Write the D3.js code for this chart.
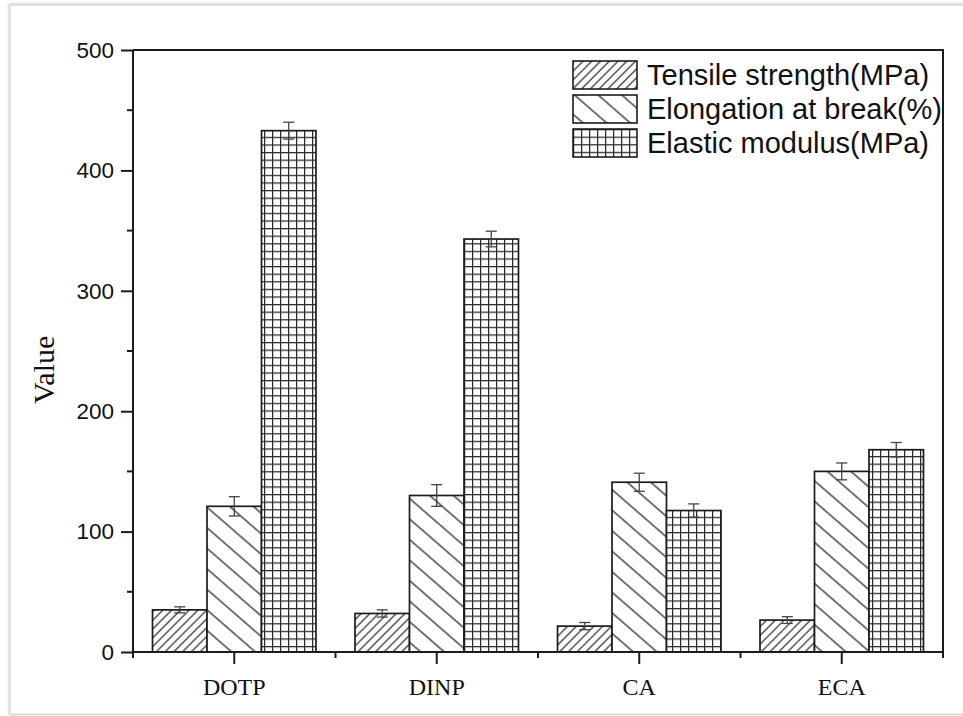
<!DOCTYPE html>
<html>
<head>
<meta charset="utf-8">
<script src="https://cdn.jsdelivr.net/npm/d3@7"></script>
<style>
  html, body { margin: 0; padding: 0; background: #fff; }
  svg { display: block; }
</style>
</head>
<body>
<svg id="chart" width="963" height="716"></svg>
<script>
// Plasticizer samples and measured mechanical properties
const categories = ["DOTP", "DINP", "CA", "ECA"];
const seriesNames = ["Tensile strength(MPa)", "Elongation at break(%)", "Elastic modulus(MPa)"];
const tensileStrength = [35, 32, 21.5, 26.5];
const elongationAtBreak = [121, 130, 141, 150];
const elasticModulus = [433, 343, 117.5, 168];
const tensileErr = [2.5, 3, 3, 2.8];
const elongationErr = [8, 9, 7.5, 7];
const modulusErr = [7, 6.5, 5.5, 6];
const yTicks = [0, 100, 200, 300, 400, 500];
const yMinorTicks = [50, 150, 250, 350, 450];

const seriesValues = [tensileStrength, elongationAtBreak, elasticModulus];
const seriesErrors = [tensileErr, elongationErr, modulusErr];
const patternIds = ["hatch-fwd", "hatch-back", "grid"];

const svg = d3.select("#chart");
const ink = "#1c1c1c";

// card frame with soft shadow
const defs = svg.append("defs");
const shadow = defs.append("filter").attr("id", "soft").attr("x", "-5%").attr("y", "-5%").attr("width", "110%").attr("height", "110%");
shadow.append("feGaussianBlur").attr("stdDeviation", 1.6);
svg.append("rect").attr("x", 10).attr("y", 5).attr("width", 962).attr("height", 709)
  .attr("fill", "none").attr("stroke", "#bdbdbd").attr("stroke-width", 2).attr("filter", "url(#soft)");
svg.append("rect").attr("x", 10).attr("y", 5).attr("width", 962).attr("height", 709)
  .attr("fill", "#fff").attr("stroke", "#d6d6d6").attr("stroke-width", 1);

// fill patterns
const p1 = defs.append("pattern").attr("id", "hatch-fwd").attr("patternUnits", "userSpaceOnUse")
  .attr("width", 6.2).attr("height", 10).attr("patternTransform", "rotate(45)");
p1.append("rect").attr("width", 6.2).attr("height", 10).attr("fill", "#fff");
p1.append("line").attr("x1", 1).attr("y1", 0).attr("x2", 1).attr("y2", 10).attr("stroke", "#2a2a2a").attr("stroke-width", 1.2);

const p2 = defs.append("pattern").attr("id", "hatch-back").attr("patternUnits", "userSpaceOnUse")
  .attr("width", 15.5).attr("height", 10).attr("patternTransform", "rotate(-49)");
p2.append("rect").attr("width", 15.5).attr("height", 10).attr("fill", "#fff");
p2.append("line").attr("x1", 1).attr("y1", 0).attr("x2", 1).attr("y2", 10).attr("stroke", "#2a2a2a").attr("stroke-width", 1.3);

const p3 = defs.append("pattern").attr("id", "grid").attr("patternUnits", "userSpaceOnUse")
  .attr("width", 8).attr("height", 7.6);
p3.append("rect").attr("width", 8).attr("height", 7.6).attr("fill", "#fff");
p3.append("line").attr("x1", 0.6).attr("y1", 0).attr("x2", 0.6).attr("y2", 7.6).attr("stroke", "#2a2a2a").attr("stroke-width", 1.3);
p3.append("line").attr("x1", 0).attr("y1", 0.6).attr("x2", 8).attr("y2", 0.6).attr("stroke", "#2a2a2a").attr("stroke-width", 1.3);

// scales
const x0 = d3.scaleBand().domain(categories).range([133, 943]).paddingInner(0).paddingOuter(0);
const x1 = d3.scaleBand().domain(d3.range(seriesNames.length)).range([0, x0.bandwidth()]).paddingInner(0).paddingOuter(0.358);
const y = d3.scaleLinear().domain([0, 500]).range([652, 50]);

// bars
categories.forEach((cat, ci) => {
  seriesValues.forEach((vals, si) => {
    const bx = x0(cat) + x1(si);
    svg.append("rect")
      .attr("x", bx).attr("y", y(vals[ci]))
      .attr("width", x1.bandwidth()).attr("height", y(0) - y(vals[ci]))
      .attr("fill", `url(#${patternIds[si]})`)
      .attr("stroke", ink).attr("stroke-width", 1.7);
  });
});

// error bars
categories.forEach((cat, ci) => {
  seriesValues.forEach((vals, si) => {
    const cx = x0(cat) + x1(si) + x1.bandwidth() / 2;
    const lo = y(vals[ci] - seriesErrors[si][ci]);
    const hi = y(vals[ci] + seriesErrors[si][ci]);
    const g = svg.append("g").attr("stroke", "#444").attr("stroke-width", 1.3);
    g.append("line").attr("x1", cx).attr("x2", cx).attr("y1", lo).attr("y2", hi);
    g.append("line").attr("x1", cx - 5.5).attr("x2", cx + 5.5).attr("y1", lo).attr("y2", lo);
    g.append("line").attr("x1", cx - 5.5).attr("x2", cx + 5.5).attr("y1", hi).attr("y2", hi);
  });
});

// frame: top and right edges
svg.append("path")
  .attr("d", `M${x0.range()[0]},${y(500)}H${x0.range()[1]}V${y(0)}`)
  .attr("fill", "none").attr("stroke", ink).attr("stroke-width", 2);

// y axis
const yAxis = d3.axisLeft(y).tickValues(yTicks).tickSize(12).tickPadding(7).tickFormat(d3.format("d"));
const gy = svg.append("g").attr("transform", "translate(133,0)").call(yAxis);
gy.select(".domain").attr("stroke", ink).attr("stroke-width", 2).attr("d", `M0,${y(0) + 6}V${y(500)}`);
gy.selectAll(".tick line").attr("stroke", ink).attr("stroke-width", 2);
gy.selectAll(".tick text").attr("fill", "#111").style("font-family", "'Liberation Sans', Arial, sans-serif").style("font-size", "22.5px");
gy.selectAll(".minor").data(yMinorTicks).enter().append("line")
  .attr("x1", -6).attr("x2", 0).attr("y1", d => y(d)).attr("y2", d => y(d))
  .attr("stroke", ink).attr("stroke-width", 2);

// x axis
const xAxis = d3.axisBottom(x0).tickSize(12).tickPadding(14);
const gx = svg.append("g").attr("transform", `translate(0,${y(0)})`).call(xAxis);
gx.select(".domain").attr("stroke", ink).attr("stroke-width", 2).attr("d", `M133,0H943`);
gx.selectAll(".tick line").attr("stroke", ink).attr("stroke-width", 2);
gx.selectAll(".tick text").attr("fill", "#111").style("font-family", "'Liberation Serif', 'Times New Roman', serif").style("font-size", "24px");
const boundaries = categories.map(c => x0(c)).concat([x0.range()[1]]);
gx.selectAll(".minor").data(boundaries).enter().append("line")
  .attr("x1", d => d).attr("x2", d => d).attr("y1", 0).attr("y2", 6)
  .attr("stroke", ink).attr("stroke-width", 2);

// y title
svg.append("text")
  .attr("transform", "translate(54,404) rotate(-90)")
  .attr("text-anchor", "start")
  .attr("fill", "#111")
  .style("font-family", "'Liberation Serif', 'Times New Roman', serif")
  .style("font-size", "30px")
  .text("Value");

// legend
const legend = svg.append("g").attr("transform", "translate(573,61)");
seriesNames.forEach((name, i) => {
  const row = legend.append("g").attr("transform", `translate(0,${i * 34})`);
  row.append("rect").attr("width", 64).attr("height", 28)
    .attr("fill", `url(#${patternIds[i]})`).attr("stroke", ink).attr("stroke-width", 1.6);
  row.append("text").attr("x", 74).attr("y", 24)
    .attr("fill", "#111")
    .style("font-family", "'Liberation Sans', Arial, sans-serif")
    .style("font-size", "29px")
    .text(name);
});
</script>
</body>
</html>
